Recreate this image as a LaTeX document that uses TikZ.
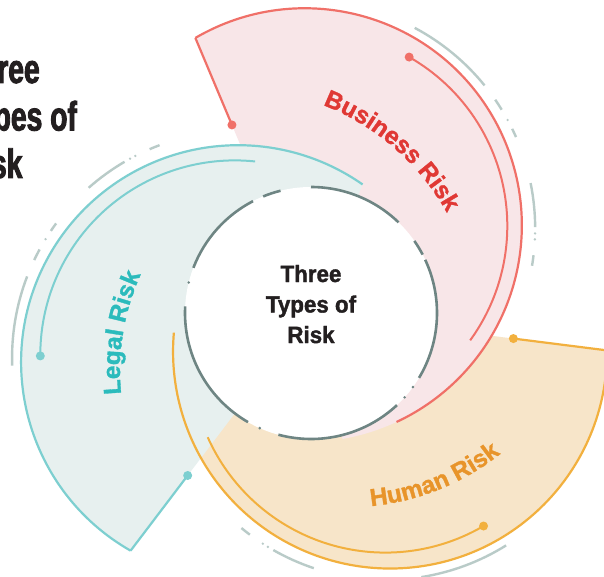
\documentclass[tikz,border=0pt]{standalone}
\usepackage{fontspec}
\setmainfont{Liberation Sans}
\newfontfamily\titlefont{Liberation Sans}[FakeStretch=0.69, BoldFeatures={FakeBold=2.2}]
\newfontfamily\hubfont{Liberation Sans}[FakeStretch=0.95, BoldFeatures={FakeBold=1.6}]
\newfontfamily\swirlfont{Liberation Sans}[BoldFeatures={FakeBold=1.3}]
\usetikzlibrary{calc,decorations.text}

\definecolor{bizfill}{HTML}{F8E6E8}
\definecolor{bizline}{HTML}{F07068}
\definecolor{biztext}{HTML}{E03834}
\definecolor{legfill}{HTML}{E7F0EF}
\definecolor{legline}{HTML}{7DCFD0}
\definecolor{legtext}{HTML}{2BBBBC}
\definecolor{humfill}{HTML}{F7E5C9}
\definecolor{humline}{HTML}{F2B03E}
\definecolor{humtext}{HTML}{E8942A}
\definecolor{tickgrey}{HTML}{B9CBC8}
\definecolor{ringgrey}{HTML}{6E8583}
\definecolor{inkdark}{HTML}{231F20}

\newcommand{\labelfont}{\swirlfont\fontsize{24.5}{28}\selectfont\bfseries}

\begin{document}
\begin{tikzpicture}[x=1pt, y=1pt,
  rim/.style={line width=2.2pt},
  inner arc/.style={line width=2pt},
  grey tick/.style={tickgrey, line width=2.4pt},
  ring/.style={ringgrey, line width=2.6pt},
  title/.style={anchor=base west, inner sep=0, text=inkdark,
    font=\titlefont\fontsize{41}{47}\selectfont\bfseries},
  hub text/.style={anchor=base, inner sep=0, text=inkdark,
    font=\hubfont\fontsize{23.5}{28}\selectfont\bfseries}]

  \useasboundingbox (0,0) rectangle (604,576);
  \clip (0,0) rectangle (604,576);
  \fill[white] (0,0) rectangle (604,576);

  % hub and the centres of the three swirls
  \coordinate (M) at (311,263);
  \coordinate (bizC) at (304.9,350.8);
  \coordinate (legC) at (238.0,213.8);
  \coordinate (humC) at (390.1,224.4);
  % inner arcs
  \coordinate (bizIn) at (312.8,350.0);
  \coordinate (legIn) at (234.8,221.1);
  \coordinate (humIn) at (385.4,217.9);
  % grey ticks
  \coordinate (bizG) at (308.15,347.7);
  \coordinate (legG) at (239.06,218.2);
  \coordinate (humG) at (385.8,223.1);
  % outer corners of the straight edges
  \coordinate (bizX) at ($(M)+(112.8:298.4)$);
  \coordinate (legX) at ($(M)+(232.8:298.4)$);
  \coordinate (humX) at ($(M)+(-7.2:298.4)$);

  % Swirl fills (orange below, teal on top)
  \fill[humfill] (M) -- (humX) arc[start angle=0.3, end angle=-195, radius=217] -- cycle;
  \fill[bizfill] (M) -- (bizX) arc[start angle=120.3, end angle=-80, radius=217] -- cycle;
  \fill[legfill] (M) -- (legX) arc[start angle=240.3, end angle=55, radius=217] -- cycle;

  % White hub
  \fill[white] (M) circle[radius=126];

  % Outer rims
  \draw[rim, bizline] (bizX) arc[start angle=120.3, end angle=-65, radius=217];
  \draw[rim, legline] (legX) arc[start angle=240.3, end angle=55, radius=217];
  \draw[rim, humline] (humX) arc[start angle=0.3, end angle=-185, radius=217];

  % Straight edges with their dots
  \coordinate (bizDot) at ($(M)+(112.8:204)$);
  \coordinate (legDot) at ($(M)+(232.8:204)$);
  \coordinate (humDot) at ($(M)+(-7.2:204)$);
  \draw[rim, bizline] (bizDot) -- (bizX);
  \draw[rim, legline] (legDot) -- (legX);
  \draw[rim, humline] (humDot) -- (humX);
  \fill[bizline] (bizDot) circle[radius=4.5];
  \fill[legline] (legDot) circle[radius=4.5];
  \fill[humline] (humDot) circle[radius=4.5];

  % Inner arcs
  \draw[inner arc, bizline] ($(bizIn)+(60.3:194.5)$) coordinate (bizTip)
    arc[start angle=60.3, end angle=-36, radius=194.5];
  \draw[inner arc, legline] ($(legIn)+(180.3:194.5)$) coordinate (legTip)
    arc[start angle=180.3, end angle=84, radius=194.5];
  \draw[inner arc, humline] ($(humIn)+(-59.7:194.5)$) coordinate (humTip)
    arc[start angle=-59.7, end angle=-156, radius=194.5];
  \fill[bizline] (bizTip) circle[radius=4.5];
  \fill[legline] (legTip) circle[radius=4.5];
  \fill[humline] (humTip) circle[radius=4.5];

  % Grey ticks outside each swirl
  \foreach \a/\b in {62/39, 34.5/31.5, 26/23.7, 11.5/0.3, -6.8/-9.5}
    \draw[grey tick] ($(bizG)+(\a:227)$) arc[start angle=\a, end angle=\b, radius=227];
  \foreach \a/\b in {182/159, 154.5/151.5, 146/143.7, 131.5/120.3, 113.2/110.5}
    \draw[grey tick] ($(legG)+(\a:227)$) arc[start angle=\a, end angle=\b, radius=227];
  \foreach \a/\b in {-58/-81, -85.5/-88.5, -94/-96.3, -108.5/-119.7, -126.8/-129.5}
    \draw[grey tick] ($(humG)+(\a:227)$) arc[start angle=\a, end angle=\b, radius=227];
  \foreach \a in {28.5, -1.3, -2.8}
    \fill[tickgrey] ($(bizG)+(\a:227)$) circle[radius=1.3];
  \foreach \a in {148.5, 118.7, 117.2}
    \fill[tickgrey] ($(legG)+(\a:227)$) circle[radius=1.3];
  \foreach \a in {-91.5, -121.3, -122.8}
    \fill[tickgrey] ($(humG)+(\a:227)$) circle[radius=1.3];

  % Broken ring round the hub
  \foreach \a/\b in {-31/25, 27.6/34.9, 46/90, 104/112.3, 117.4/159, 177/240, 255/313}
    \draw[ring] ($(M)+(\a:126)$) arc[start angle=\a, end angle=\b, radius=126];
  \foreach \a in {166, 246, 318, 324}
    \fill[ringgrey] ($(M)+(\a:126)$) circle[radius=1.4];

  % Curved labels
  \coordinate (bizT) at (235.5,245.3);
  \coordinate (legT) at (355,205);
  \coordinate (humT) at (347.4,314.8);
  \path[decorate, decoration={text along path, text align=center,
      text={|\labelfont\color{biztext}|Business Risk}}]
    ($(bizT)+(89:242)$) arc[start angle=89, end angle=9, radius=242];
  \path[decorate, decoration={text along path, text align=center,
      text={|\labelfont\color{legtext}|Legal Risk}}]
    ($(legT)+(210.7:235)$) arc[start angle=210.7, end angle=130.7, radius=235];
  \path[decorate, decoration={text along path, text align=center,
      text={|\labelfont\color{humtext}|Human Risk}}]
    ($(humT)+(-108:246)$) arc[start angle=-108, end angle=-28, radius=246];

  % Hub text
  \node[hub text] (hub1) at (311,294) {Three};
  \node[hub text] (hub2) at (311,263.5) {Types of};
  \node[hub text] (hub3) at (311,233) {Risk};

  % Title, running off the left edge
  \node[title] (title1) at (-37.5,493) {Three};
  \node[title] (title2) at (-37.5,445.5) {Types of};
  \node[title] (title3) at (-37.5,398) {Risk};
\end{tikzpicture}
\end{document}
